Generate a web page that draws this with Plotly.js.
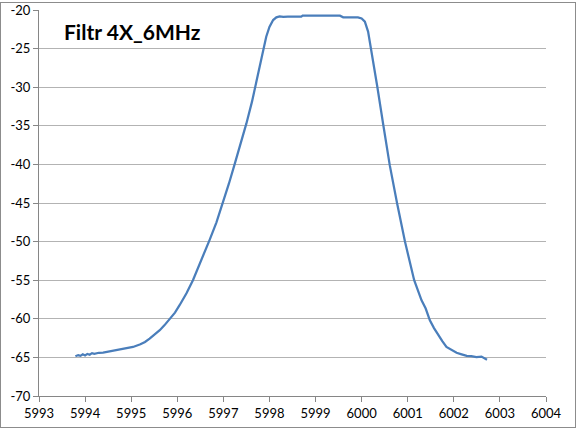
<!DOCTYPE html>
<html>
<head>
<meta charset="utf-8">
<script src="https://cdn.plot.ly/plotly-3.0.1.min.js"></script>
<style>
  body { margin: 0; background: #fff; }
  #wrap { position: relative; width: 577px; height: 428px; }
  #chart { position: absolute; left: 0; top: 0; width: 577px; height: 428px; }
  #frame { position: absolute; left: 0; top: 2px; width: 574px; height: 424px; border: 1px solid #8c8c8c; pointer-events: none; }
</style>
</head>
<body>
<div id="wrap">
  <div id="chart"></div>
  <div id="frame"></div>
</div>
<script>
const chartTitle = "Filtr 4X_6MHz";

const freqMHz = [
  5993.79, 5993.85, 5993.9, 5993.95, 5994.0, 5994.05, 5994.1, 5994.15, 5994.2, 5994.3,
  5994.39, 5994.5, 5994.6, 5994.7, 5994.8, 5994.9, 5995.04, 5995.2, 5995.3, 5995.40,
  5995.5, 5995.62, 5995.72, 5995.83, 5995.95, 5996.05, 5996.2, 5996.34, 5996.52, 5996.70,
  5996.85, 5996.99, 5997.12, 5997.25, 5997.38, 5997.50, 5997.62, 5997.73, 5997.83, 5997.93,
  5998.0, 5998.08, 5998.15, 5998.22, 5998.3, 5998.4, 5998.5, 5998.6, 5998.69, 5998.72,
  5999.0, 5999.3, 5999.53, 5999.60, 5999.8, 5999.92, 6000.0, 6000.07, 6000.14, 6000.21,
  6000.25, 6000.34, 6000.47, 6000.61, 6000.77, 6000.94, 6001.14, 6001.22, 6001.30, 6001.39,
  6001.48, 6001.57, 6001.66, 6001.75, 6001.84, 6001.95, 6002.06, 6002.17, 6002.28, 6002.38,
  6002.49, 6002.6, 6002.66, 6002.72
];

const levelDb = [
  -64.85, -64.7, -64.8, -64.6, -64.75, -64.55, -64.65, -64.45, -64.55, -64.4,
  -64.37, -64.25, -64.15, -64.05, -63.95, -63.85, -63.65, -63.3, -63.0, -62.56,
  -62.1, -61.48, -60.85, -60.1, -59.2, -58.24, -56.7, -55.0, -52.5, -49.8,
  -47.5, -45.06, -42.5, -39.87, -37.3, -34.69, -31.9, -29.07, -26.2, -23.46,
  -22.2, -21.3, -20.95, -20.82, -20.9, -20.87, -20.85, -20.87, -20.87, -20.74,
  -20.74, -20.76, -20.74, -20.95, -20.95, -20.95, -21.1, -21.5, -22.8, -25.2,
  -26.48, -29.94, -34.9, -40.1, -45.06, -50.0, -55.0, -56.4, -57.6, -58.67,
  -60.2, -61.2, -62.1, -62.9, -63.65, -64.0, -64.4, -64.6, -64.8, -64.85,
  -64.95, -64.9, -65.1, -65.3
];

const xTicks = [5993, 5994, 5995, 5996, 5997, 5998, 5999, 6000, 6001, 6002, 6003, 6004];
const yTicks = [-70, -65, -60, -55, -50, -45, -40, -35, -30, -25, -20];

const trace = {
  x: freqMHz,
  y: levelDb,
  type: 'scatter',
  mode: 'lines',
  line: { color: '#4a7ebb', width: 2.25 },
  hoverinfo: 'x+y'
};

const layout = {
  width: 577,
  height: 428,
  margin: { l: 39, r: 31, t: 10, b: 32, pad: 0 },
  paper_bgcolor: '#ffffff',
  plot_bgcolor: '#ffffff',
  showlegend: false,
  font: { family: 'Lato, "Open Sans", sans-serif', size: 13, color: '#000' },
  xaxis: {
    range: [5993, 6004],
    tickvals: xTicks,
    ticktext: xTicks.map(String),
    showgrid: false,
    zeroline: false,
    showline: true,
    linecolor: '#868686',
    linewidth: 1,
    ticks: 'outside',
    ticklen: 5,
    tickcolor: '#868686',
    tickfont: { family: 'Lato, "Open Sans", sans-serif', size: 13, color: '#000' },
    fixedrange: true
  },
  yaxis: {
    range: [-70, -20],
    tickvals: yTicks,
    ticktext: yTicks.map(String),
    showgrid: true,
    gridcolor: '#b3b3b3',
    gridwidth: 1,
    zeroline: false,
    showline: true,
    linecolor: '#868686',
    linewidth: 1,
    ticks: 'outside',
    ticklen: 5,
    tickcolor: '#868686',
    tickfont: { family: 'Lato, "Open Sans", sans-serif', size: 13, color: '#000' },
    fixedrange: true
  },
  annotations: [{
    text: '<b>' + chartTitle + '</b>',
    xref: 'paper', yref: 'paper',
    x: 0.045, y: 0.982,
    xanchor: 'left', yanchor: 'top',
    showarrow: false,
    font: { family: 'Lato, "Open Sans", sans-serif', size: 21, color: '#000' }
  }]
};

Plotly.newPlot('chart', [trace], layout, { displayModeBar: false, staticPlot: true });
</script>
</body>
</html>
